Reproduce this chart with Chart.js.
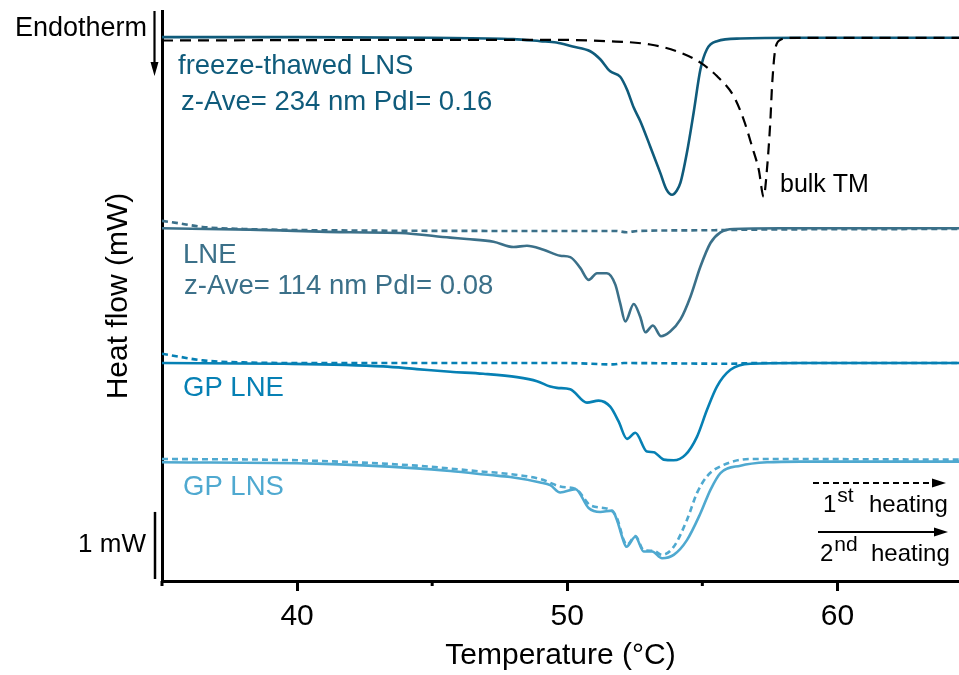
<!DOCTYPE html>
<html>
<head>
<meta charset="utf-8">
<title>DSC thermograms</title>
<script src="https://cdn.jsdelivr.net/npm/chart.js@4.4.1/dist/chart.umd.min.js"></script>
<style>
  html, body { margin: 0; padding: 0; background: #fff; }
  #wrap { width: 959px; height: 675px; position: relative; }
</style>
</head>
<body>
<div id="wrap"><canvas id="dsc"></canvas></div>
<script>
// Temperatura (°C) e fluxo de calor (mW, com deslocamento vertical de cada curva)

// freeze-thawed LNS (2o aquecimento)
const ftT  = [35.0, 40.0, 45.0, 48.0, 49.0, 49.6, 50.2, 50.85, 51.22, 51.59, 51.96, 52.21, 52.46, 52.70, 53.07, 53.44, 53.67, 53.88, 54.05, 54.19, 54.43, 54.68, 54.93, 55.17, 55.54, 56.4, 58.6, 64.5];
const ftHF = [8.11, 8.11, 8.10, 8.08, 8.05, 8.03, 7.97, 7.90, 7.78, 7.60, 7.52, 7.33, 7.06, 6.86, 6.48, 6.09, 5.84, 5.76, 5.82, 5.94, 6.39, 6.99, 7.63, 7.93, 8.05, 8.09, 8.10, 8.10];

// bulk TM
const bulkT  = [35.0, 45.0, 49.4, 51.5, 53.07, 54.19, 54.93, 55.54, 56.16, 56.53, 56.84, 57.09, 57.27, 57.39, 57.52, 57.58, 57.70, 57.89, 58.3, 64.5];
const bulkHF = [8.06, 8.07, 8.07, 8.05, 8.00, 7.88, 7.73, 7.53, 7.23, 6.88, 6.48, 6.13, 5.73, 6.13, 6.88, 7.38, 7.93, 8.07, 8.10, 8.10];

// LNE
const lneT2  = [35.0, 38.26, 41.96, 43.81, 45.67, 46.28, 47.27, 48.01, 48.51, 49.12, 49.74, 50.11, 50.48, 50.79, 51.10, 51.47, 51.78, 51.96, 52.15, 52.46, 52.70, 52.89, 53.17, 53.47, 53.81, 54.19, 54.56, 54.93, 55.30, 55.67, 56.16, 57.89, 64.5];
const lneHF2 = [5.26, 5.24, 5.20, 5.19, 5.12, 5.10, 5.06, 4.98, 5.00, 4.94, 4.85, 4.83, 4.67, 4.49, 4.59, 4.59, 4.42, 4.14, 3.87, 4.13, 3.94, 3.71, 3.81, 3.65, 3.72, 3.90, 4.24, 4.69, 5.04, 5.20, 5.25, 5.26, 5.26];
const lneT1  = [35.0, 35.7, 36.5, 38.0, 41.0, 50.0, 51.8, 52.2, 52.6, 55.0, 57.0, 64.5];
const lneHF1 = [5.37, 5.33, 5.28, 5.25, 5.23, 5.22, 5.22, 5.20, 5.22, 5.23, 5.24, 5.25];

// GP LNE
const gpLneT2  = [35.0, 39.5, 43.19, 44.43, 45.67, 46.89, 48.14, 48.88, 49.37, 49.62, 50.11, 50.73, 51.16, 51.59, 51.9, 52.21, 52.52, 52.95, 53.2, 53.57, 53.94, 54.37, 54.80, 55.17, 55.54, 56.04, 56.78, 58.63, 64.5];
const gpLneHF2 = [3.25, 3.24, 3.20, 3.16, 3.12, 3.09, 3.04, 2.98, 2.90, 2.88, 2.86, 2.66, 2.69, 2.60, 2.38, 2.12, 2.21, 1.93, 1.92, 1.81, 1.80, 1.88, 2.15, 2.55, 2.90, 3.15, 3.24, 3.25, 3.25];
const gpLneT1  = [35.0, 35.7, 36.5, 38.0, 41.0, 50.0, 51.7, 52.1, 56.0, 57.0, 64.5];
const gpLneHF1 = [3.39, 3.34, 3.29, 3.26, 3.25, 3.25, 3.23, 3.25, 3.24, 3.25, 3.25];

// GP LNS
const gpLnsT2  = [35.0, 40.73, 44.43, 45.67, 47.15, 47.89, 49.0, 49.37, 49.74, 50.30, 50.79, 51.22, 51.66, 51.84, 52.03, 52.19, 52.52, 52.83, 53.14, 53.51, 53.94, 54.43, 54.93, 55.30, 55.67, 56.41, 57.4, 58.63, 64.5];
const gpLnsHF2 = [1.77, 1.75, 1.68, 1.64, 1.58, 1.55, 1.47, 1.43, 1.32, 1.37, 1.09, 1.03, 1.05, 0.91, 0.66, 0.51, 0.66, 0.44, 0.44, 0.34, 0.39, 0.61, 1.01, 1.36, 1.61, 1.72, 1.77, 1.78, 1.78];
const gpLnsT1  = [35.0, 40.0, 44.43, 46.9, 47.52, 49.0, 49.74, 50.36, 50.85, 51.59, 51.84, 52.09, 52.21, 52.52, 52.83, 53.2, 53.51, 53.94, 54.43, 54.80, 55.17, 55.67, 56.78, 64.5];
const gpLnsHF1 = [1.82, 1.80, 1.72, 1.63, 1.61, 1.52, 1.41, 1.36, 1.13, 1.06, 0.94, 0.61, 0.54, 0.67, 0.46, 0.45, 0.39, 0.51, 0.91, 1.31, 1.56, 1.71, 1.82, 1.81];

const majorTicks = [40, 50, 60];
const minorTicks = [35, 45, 55];

const FONT = '"Liberation Sans", Arial, Helvetica, sans-serif';
const cFT = '#0f5b7b';
const cLNE = '#3b7089';
const cGPLNE = '#0680b4';
const cGPLNS = '#4fa9d0';

Chart.defaults.font.family = FONT;

function serie(T, HF, color, dash, width) {
    return {
        data: T.map((t, i) => ({ x: t, y: HF[i] })),
        borderColor: color,
        borderWidth: width || 2.6,
        borderDash: dash || [],
        pointRadius: 0,
        fill: false,
        cubicInterpolationMode: 'monotone'
    };
}

// textos, setas e barra de escala
const overlay = {
    id: 'overlay',
    afterDraw(chart) {
        const { ctx, scales: { x, y } } = chart;
        ctx.save();

        // ticks menores
        ctx.strokeStyle = '#000';
        ctx.lineWidth = 3;
        minorTicks.forEach(v => {
            const px = x.getPixelForValue(v);
            ctx.beginPath();
            ctx.moveTo(px, 581);
            ctx.lineTo(px, 586);
            ctx.stroke();
        });

        const text = (s, tx, ty, size, color, align) => {
            ctx.font = size + 'px ' + FONT;
            ctx.fillStyle = color;
            ctx.textAlign = align || 'left';
            ctx.textBaseline = 'alphabetic';
            ctx.fillText(s, tx, ty);
            return ctx.measureText(s).width;
        };

        const arrow = (x1, y1, x2, y2, dash) => {
            ctx.strokeStyle = '#000';
            ctx.fillStyle = '#000';
            ctx.lineWidth = 2.2;
            ctx.setLineDash(dash || []);
            const horiz = y1 === y2;
            ctx.beginPath();
            ctx.moveTo(x1, y1);
            if (horiz) ctx.lineTo(x2 - 10, y2); else ctx.lineTo(x2, y2 - 10);
            ctx.stroke();
            ctx.setLineDash([]);
            ctx.beginPath();
            if (horiz) {
                ctx.moveTo(x2, y2);
                ctx.lineTo(x2 - 14, y2 - 4.5);
                ctx.lineTo(x2 - 14, y2 + 4.5);
            } else {
                ctx.moveTo(x2, y2);
                ctx.lineTo(x2 - 4, y2 - 14);
                ctx.lineTo(x2 + 4, y2 - 14);
            }
            ctx.closePath();
            ctx.fill();
        };

        // endotérmico
        text('Endotherm', 15, 36, 27, '#000');
        arrow(154.5, 11, 154.5, 76);

        // barra de 1 mW
        ctx.strokeStyle = '#000';
        ctx.lineWidth = 2.5;
        ctx.beginPath();
        ctx.moveTo(155, y.getPixelForValue(0.03));
        ctx.lineTo(155, y.getPixelForValue(1.03));
        ctx.stroke();
        text('1 mW', 146, 552, 26, '#000', 'right');

        // rótulos das curvas
        text('freeze-thawed LNS', 178, 74, 27.5, cFT);
        text('z-Ave= 234 nm PdI= 0.16', 181, 110, 27.5, cFT);
        text('bulk TM', 780, 192, 25, '#000');
        text('LNE', 183, 263, 27.5, cLNE);
        text('z-Ave= 114 nm PdI= 0.08', 184, 294, 27.5, cLNE);
        text('GP LNE', 183, 396, 27.5, cGPLNE);
        text('GP LNS', 183, 495, 27.5, cGPLNS);

        // legenda
        arrow(813, 483, 946, 483, [6, 4]);
        let w = text('1', 823, 512, 24, '#000');
        text('st', 823 + w + 1, 502, 21, '#000');
        text('heating', 869, 512, 24, '#000');
        arrow(818, 532, 948, 532);
        w = text('2', 820, 561, 24, '#000');
        text('nd', 820 + w + 1, 551, 21, '#000');
        text('heating', 871, 561, 24, '#000');

        ctx.restore();
    }
};

new Chart(document.getElementById('dsc'), {
    type: 'line',
    data: {
        datasets: [
            serie(bulkT, bulkHF, '#000', [11, 7], 2.2),
            serie(ftT, ftHF, cFT),
            serie(lneT1, lneHF1, cLNE, [6, 4]),
            serie(lneT2, lneHF2, cLNE),
            serie(gpLneT1, gpLneHF1, cGPLNE, [6, 4]),
            serie(gpLneT2, gpLneHF2, cGPLNE),
            serie(gpLnsT1, gpLnsHF1, cGPLNS, [6, 4]),
            serie(gpLnsT2, gpLnsHF2, cGPLNS)
        ]
    },
    options: {
        responsive: true,
        maintainAspectRatio: false,
        animation: false,
        layout: { padding: { left: 100, top: 11, right: 0, bottom: 0 } },
        plugins: {
            legend: { display: false },
            tooltip: { enabled: false }
        },
        scales: {
            x: {
                type: 'linear',
                min: 35,
                max: 64.5,
                afterBuildTicks: s => { s.ticks = majorTicks.map(v => ({ value: v })); },
                afterFit: s => { s.height = 94; },
                grid: { display: true, drawOnChartArea: false, drawTicks: true, tickLength: 10, tickWidth: 3, tickColor: '#000' },
                border: { display: true, width: 3, color: '#000' },
                ticks: { color: '#000', font: { size: 30 }, padding: 8, maxRotation: 0 },
                title: { display: true, text: 'Temperature (°C)', color: '#000', font: { size: 30, lineHeight: 1 }, padding: { top: 0, bottom: 4 } }
            },
            y: {
                type: 'linear',
                min: 0,
                max: 8.5,
                afterFit: s => { s.width = 62; },
                grid: { display: false },
                border: { display: true, width: 3, color: '#000' },
                ticks: { display: false },
                title: { display: true, text: 'Heat flow (mW)', color: '#000', font: { size: 30, lineHeight: 1 }, padding: { top: 4, bottom: 0 } }
            }
        }
    },
    plugins: [overlay]
});
</script>
</body>
</html>
